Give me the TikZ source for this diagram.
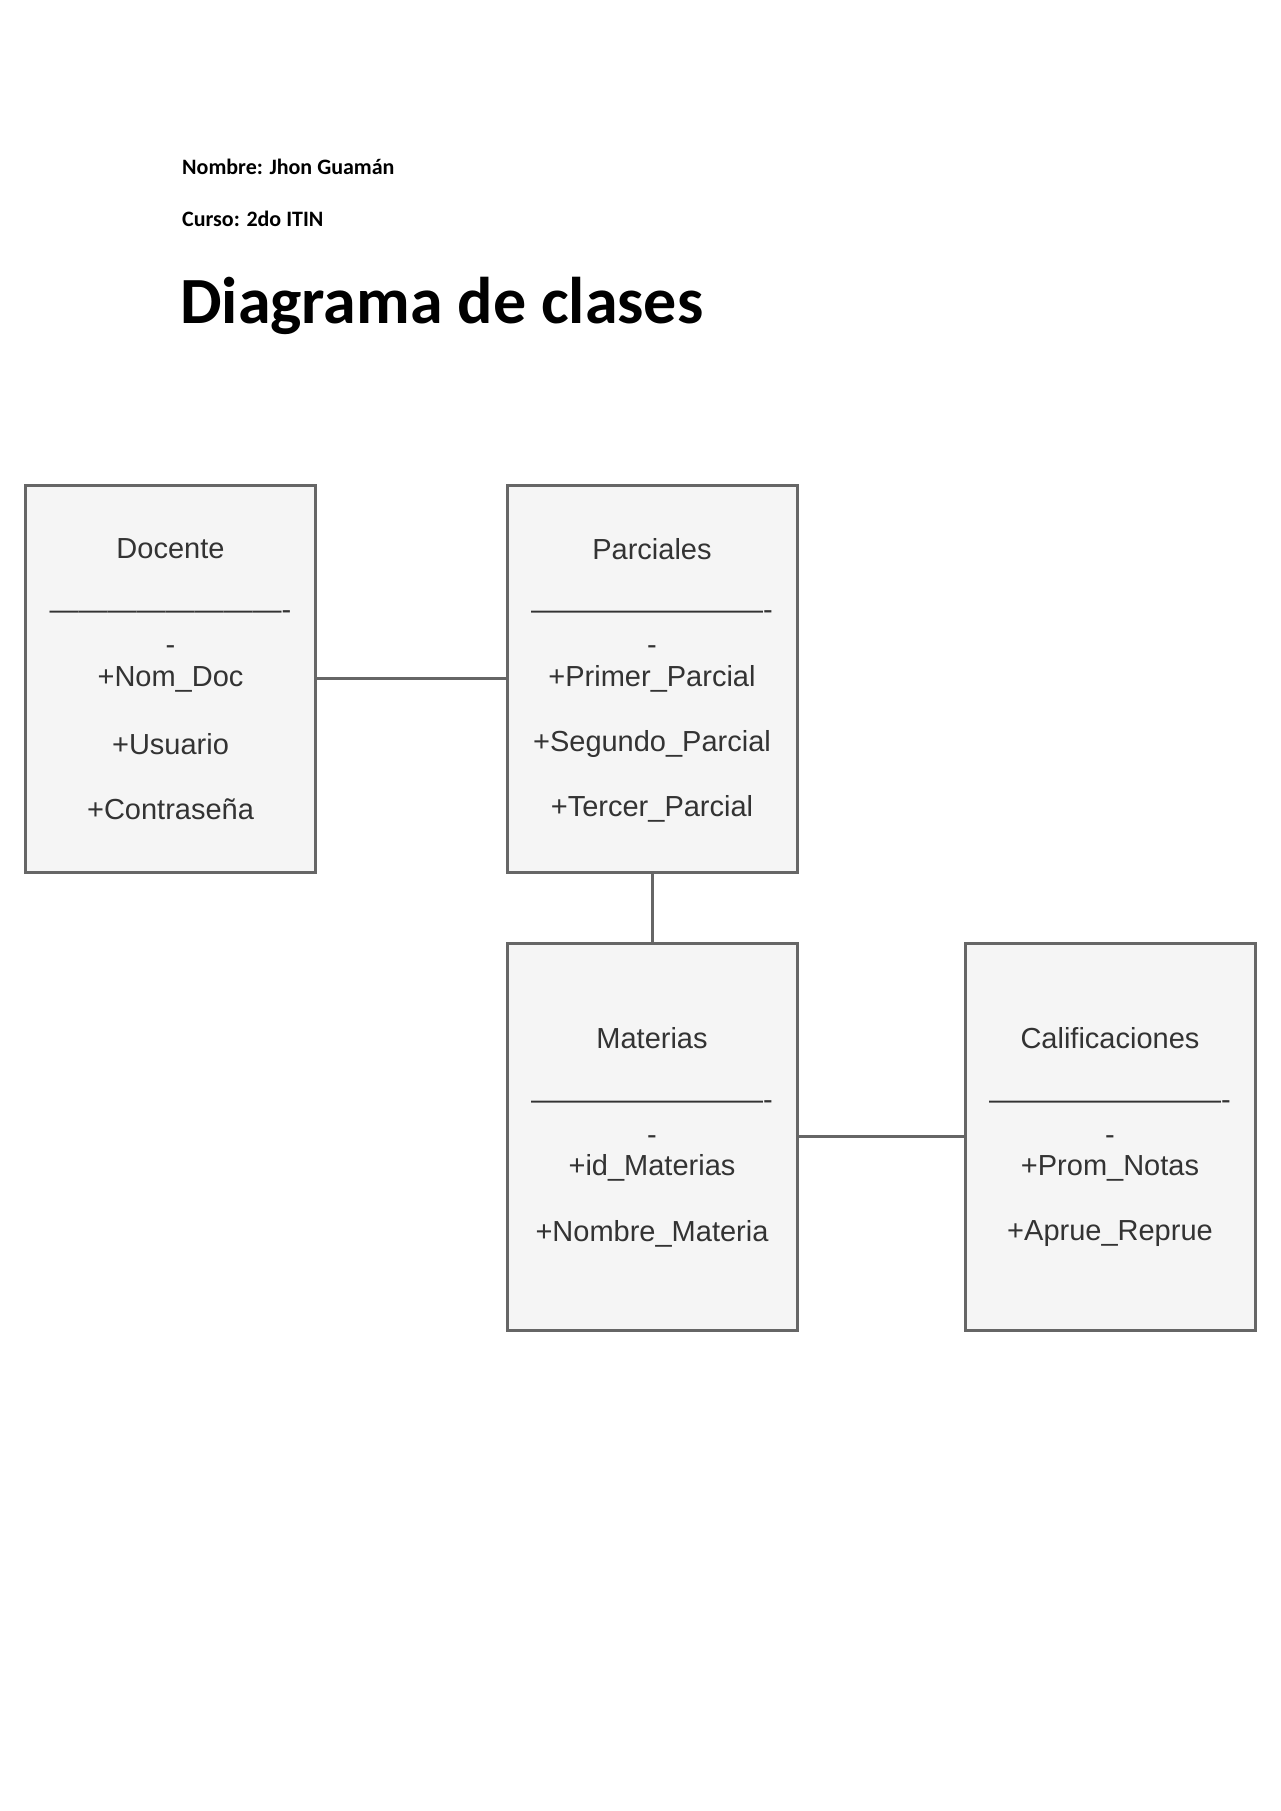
\documentclass[tikz,border=0pt]{standalone}
\usepackage{fontspec}
\setmainfont{Liberation Sans}
\newfontfamily\carfont{Carlito}
\begin{document}
\begin{tikzpicture}[x=1pt,y=-1pt,
  cls/.style={draw=black!60,fill=black!4,line width=3pt,minimum width=290pt,minimum height=387pt,inner sep=0pt},
  txt/.style={font=\fontsize{29}{34}\selectfont,text=black!80,inner sep=0pt},
  hdr/.style={font=\carfont\bfseries\fontsize{22}{26}\selectfont,anchor=west,inner sep=0pt},
  link/.style={draw=black!60,line width=3pt}]
\useasboundingbox (0,0) rectangle (1280,1811);
\node[hdr] (nom) at (182,167) {Nombre: Jhon Guamán};
\node[hdr] (cur) at (182,219) {Curso: 2do ITIN};
\node[font=\carfont\bfseries\fontsize{66}{76}\selectfont,anchor=west,inner sep=0pt] (tit) at (180,306) {Diagrama de clases};
\node[cls] (doc) at (170.5,678.5) {};
\node[cls] (par) at (652,678.5) {};
\node[cls] (mat) at (652,1136.5) {};
\node[cls] (cal) at (1110,1136.5) {};
\draw[link] (doc.east |- 0,678) -- (par.west |- 0,678);
\draw[link] (par.south) -- (mat.north);
\draw[link] (mat.east |- 0,1136) -- (cal.west |- 0,1136);
\foreach \n/\x in {d/170.5,p/652}{
  \node[txt] (\n s) at (\x,615) {-------------------------};
  \node[txt] (\n m) at (\x,650) {-};
}
\foreach \n/\x in {m/652,c/1110}{
  \node[txt] (\n s) at (\x,1105) {-------------------------};
  \node[txt] (\n m) at (\x,1140) {-};
}
\node[txt] (d1) at (170.5,549) {Docente};
\node[txt] (d2) at (170.5,679) {+Nom\_Doc};
\node[txt] (d3) at (170.5,744) {+Usuario};
\node[txt] (d4) at (170.5,809) {+Contraseña};
\node[txt] (p1) at (652,549) {Parciales};
\node[txt] (p2) at (652,679) {+Primer\_Parcial};
\node[txt] (p3) at (652,744) {+Segundo\_Parcial};
\node[txt] (p4) at (652,809) {+Tercer\_Parcial};
\node[txt] (m1) at (652,1038) {Materias};
\node[txt] (m2) at (652,1168) {+id\_Materias};
\node[txt] (m3) at (652,1234) {+Nombre\_Materia};
\node[txt] (c1) at (1110,1038) {Calificaciones};
\node[txt] (c2) at (1110,1168) {+Prom\_Notas};
\node[txt] (c3) at (1110,1234) {+Aprue\_Reprue};
\end{tikzpicture}
\end{document}
